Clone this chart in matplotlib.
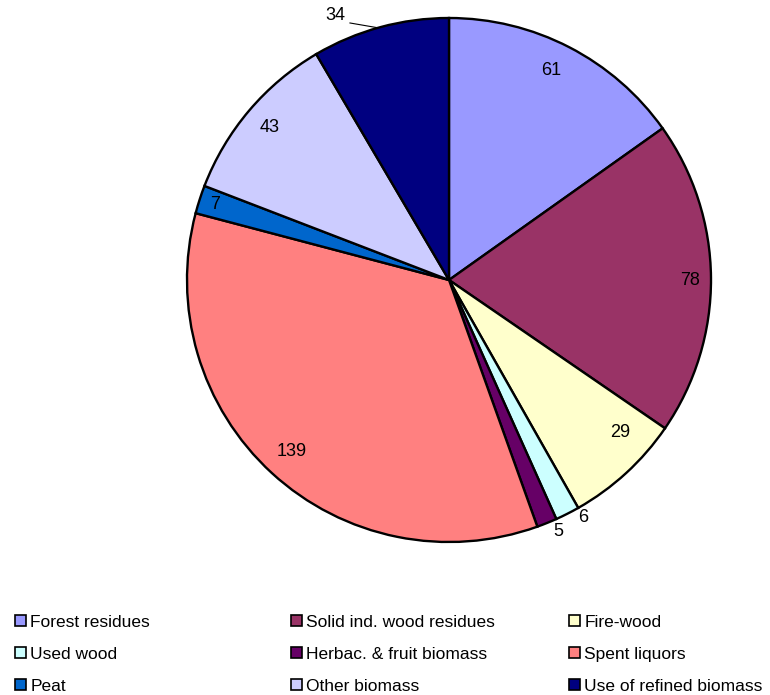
import numpy as np
import matplotlib.pyplot as plt
from matplotlib.patches import Patch

labels = ['Forest residues', 'Solid ind. wood residues', 'Fire-wood',
          'Used wood', 'Herbac. & fruit biomass', 'Spent liquors',
          'Peat', 'Other biomass', 'Use of refined biomass']
values = [61, 78, 29, 6, 5, 139, 7, 43, 34]
colors = ['#9999FF', '#993366', '#FFFFCC', '#CCFFFF', '#660066',
          '#FF8080', '#0066CC', '#CCCCFF', '#000080']

plt.rcParams['font.family'] = ['Liberation Sans', 'DejaVu Sans']

fig = plt.figure(figsize=(7.7, 6.95), dpi=100)
# pie centre ~ (449, 280) px, radius ~262 px
ax = fig.add_axes([(449 - 262) / 770, 1 - (280 + 262) / 695, 524 / 770, 524 / 695])

wedges, _ = ax.pie(values, colors=colors, startangle=90, counterclock=False,
                   wedgeprops=dict(edgecolor='black', linewidth=1.7))
ax.set_xlim(-1, 1)
ax.set_ylim(-1, 1)
ax.set_aspect('equal')

# label radius and angular nudge (deg) per wedge
lab_r = [0.89, 0.92, 0.875, 1.04, 1.046, 0.89, 0.94, 0.9, 1.098]
lab_da = [1.3, -0.5, 5.7, 2.7, 1.5, 0, 0, 0, 8]
for w, v, r, da in zip(wedges, values, lab_r, lab_da):
    a = np.deg2rad((w.theta1 + w.theta2) / 2 + da)
    ax.text(r * np.cos(a), r * np.sin(a), str(v), ha='center', va='center',
            fontsize=13)

# leader line for the outside label at the top
ax.plot([-0.378, -0.271], [0.981, 0.9626], color='black', lw=0.8, clip_on=False)

handles = [Patch(facecolor=c, edgecolor='black', linewidth=1.2) for c in colors]
col_x = [6 / 770, 282 / 770, 560 / 770]
for k in range(3):
    idx = [k, k + 3, k + 6]
    fig.legend([handles[i] for i in idx], [labels[i] for i in idx],
               loc='upper left', bbox_to_anchor=(col_x[k], 1 - 606 / 695),
               frameon=False, fontsize=12.5, handlelength=0.65, handleheight=0.65,
               handletextpad=0.25, labelspacing=0.98, borderpad=0)

fig.savefig('out.png', dpi=100)
